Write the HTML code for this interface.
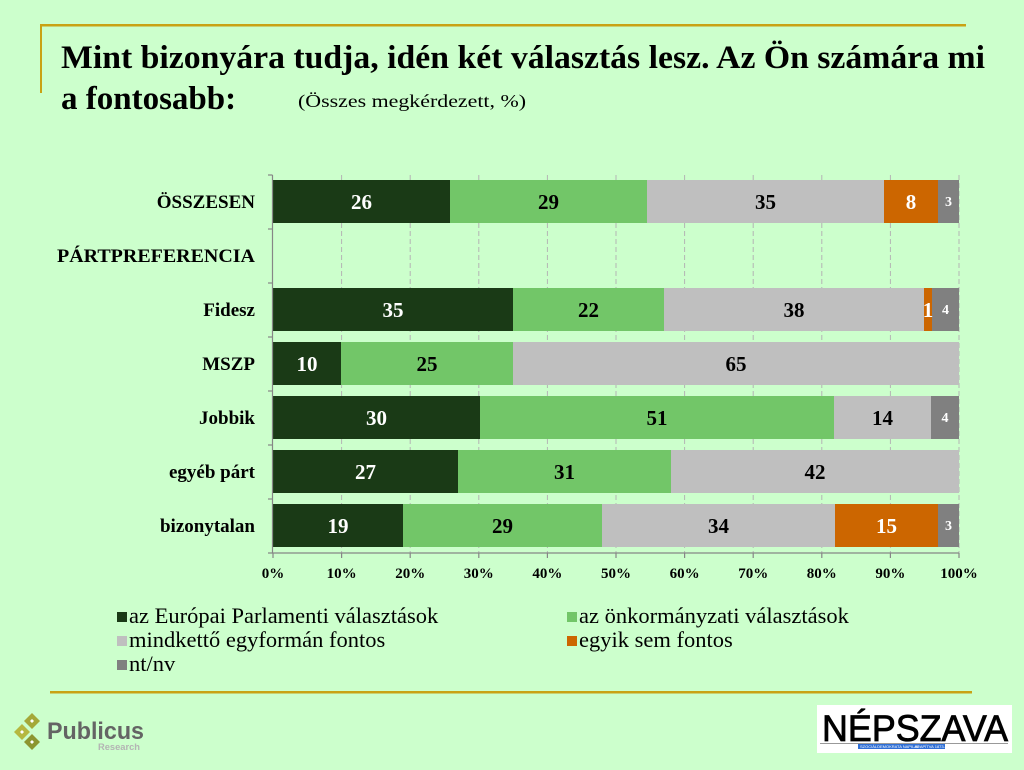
<!DOCTYPE html>
<html>
<head>
<meta charset="utf-8">
<style>
html,body{margin:0;padding:0;background:#ccffcc;}
svg{display:block;}
</style>
</head>
<body>
<svg width="1024" height="770" viewBox="0 0 1024 770" xmlns="http://www.w3.org/2000/svg">
<rect x="0" y="0" width="1024" height="770" fill="#ccffcc"/>

<!-- gold frame lines -->
<rect x="40" y="24" width="926" height="2.5" fill="#c9a214"/>
<rect x="40" y="24" width="2" height="69" fill="#c9a214"/>
<rect x="50" y="691" width="922" height="2.5" fill="#c9a214"/>

<!-- title -->
<text x="61" y="68" font-family="Liberation Serif, serif" font-weight="bold" font-size="33" fill="#000" textLength="924" lengthAdjust="spacingAndGlyphs">Mint bizonyára tudja, idén két választás lesz. Az Ön számára mi</text>
<text x="61" y="109" font-family="Liberation Serif, serif" font-weight="bold" font-size="33" fill="#000">a fontosabb:</text>
<text x="298" y="107" font-family="Liberation Serif, serif" font-size="18" fill="#000" textLength="228" lengthAdjust="spacingAndGlyphs">(Összes megkérdezett, %)</text>

<!-- gridlines -->
<g stroke="#b4b4b4" stroke-width="1" stroke-dasharray="5,3">
<line x1="341.6" y1="175" x2="341.6" y2="553"/>
<line x1="410.2" y1="175" x2="410.2" y2="553"/>
<line x1="478.8" y1="175" x2="478.8" y2="553"/>
<line x1="547.4" y1="175" x2="547.4" y2="553"/>
<line x1="616" y1="175" x2="616" y2="553"/>
<line x1="684.6" y1="175" x2="684.6" y2="553"/>
<line x1="753.2" y1="175" x2="753.2" y2="553"/>
<line x1="821.8" y1="175" x2="821.8" y2="553"/>
<line x1="890.4" y1="175" x2="890.4" y2="553"/>
<line x1="959" y1="175" x2="959" y2="553"/>
</g>

<!-- bars -->
<g>
<rect x="273" y="180" width="177" height="43" fill="#1a3a16"/>
<rect x="450" y="180" width="197" height="43" fill="#72c668"/>
<rect x="647" y="180" width="237" height="43" fill="#bfbfbf"/>
<rect x="884" y="180" width="54" height="43" fill="#cc6600"/>
<rect x="938" y="180" width="21" height="43" fill="#808080"/>
<rect x="273" y="288" width="240" height="43" fill="#1a3a16"/>
<rect x="513" y="288" width="151" height="43" fill="#72c668"/>
<rect x="664" y="288" width="260" height="43" fill="#bfbfbf"/>
<rect x="924" y="288" width="8" height="43" fill="#cc6600"/>
<rect x="932" y="288" width="27" height="43" fill="#808080"/>
<rect x="273" y="342" width="68" height="43" fill="#1a3a16"/>
<rect x="341" y="342" width="172" height="43" fill="#72c668"/>
<rect x="513" y="342" width="446" height="43" fill="#bfbfbf"/>
<rect x="273" y="396" width="207" height="43" fill="#1a3a16"/>
<rect x="480" y="396" width="354" height="43" fill="#72c668"/>
<rect x="834" y="396" width="97" height="43" fill="#bfbfbf"/>
<rect x="931" y="396" width="28" height="43" fill="#808080"/>
<rect x="273" y="450" width="185" height="43" fill="#1a3a16"/>
<rect x="458" y="450" width="213" height="43" fill="#72c668"/>
<rect x="671" y="450" width="288" height="43" fill="#bfbfbf"/>
<rect x="273" y="504" width="130" height="43" fill="#1a3a16"/>
<rect x="403" y="504" width="199" height="43" fill="#72c668"/>
<rect x="602" y="504" width="233" height="43" fill="#bfbfbf"/>
<rect x="835" y="504" width="103" height="43" fill="#cc6600"/>
<rect x="938" y="504" width="21" height="43" fill="#808080"/>
</g>

<!-- bar labels -->
<g font-family="Liberation Serif, serif" font-weight="bold" font-size="21" text-anchor="middle">
<text x="361.5" y="209" fill="#fff">26</text>
<text x="548.5" y="209" fill="#000">29</text>
<text x="765.5" y="209" fill="#000">35</text>
<text x="911" y="209" fill="#fff">8</text>
<text x="393" y="317" fill="#fff">35</text>
<text x="588.5" y="317" fill="#000">22</text>
<text x="794" y="317" fill="#000">38</text>
<text x="928" y="317" fill="#fff">1</text>
<text x="307" y="371" fill="#fff">10</text>
<text x="427" y="371" fill="#000">25</text>
<text x="736" y="371" fill="#000">65</text>
<text x="376.5" y="425" fill="#fff">30</text>
<text x="657" y="425" fill="#000">51</text>
<text x="882.5" y="425" fill="#000">14</text>
<text x="365.5" y="479" fill="#fff">27</text>
<text x="564.5" y="479" fill="#000">31</text>
<text x="815" y="479" fill="#000">42</text>
<text x="338" y="533" fill="#fff">19</text>
<text x="502.5" y="533" fill="#000">29</text>
<text x="718.5" y="533" fill="#000">34</text>
<text x="886.5" y="533" fill="#fff">15</text>
</g>
<g font-family="Liberation Serif, serif" font-weight="bold" font-size="14" text-anchor="middle" fill="#fff">
<text x="948.5" y="206">3</text>
<text x="945.5" y="314">4</text>
<text x="945" y="422">4</text>
<text x="948.5" y="530">3</text>
</g>

<!-- axes -->
<g stroke="#868686" stroke-width="1.2" fill="none">
<line x1="272.5" y1="175" x2="272.5" y2="553"/>
<line x1="268" y1="175" x2="272.5" y2="175"/>
<line x1="268" y1="229" x2="272.5" y2="229"/>
<line x1="268" y1="283" x2="272.5" y2="283"/>
<line x1="268" y1="337" x2="272.5" y2="337"/>
<line x1="268" y1="391" x2="272.5" y2="391"/>
<line x1="268" y1="445" x2="272.5" y2="445"/>
<line x1="268" y1="499" x2="272.5" y2="499"/>
<line x1="268" y1="553" x2="959" y2="553"/>
<line x1="273" y1="553" x2="273" y2="558"/>
<line x1="341.6" y1="553" x2="341.6" y2="558"/>
<line x1="410.2" y1="553" x2="410.2" y2="558"/>
<line x1="478.8" y1="553" x2="478.8" y2="558"/>
<line x1="547.4" y1="553" x2="547.4" y2="558"/>
<line x1="616" y1="553" x2="616" y2="558"/>
<line x1="684.6" y1="553" x2="684.6" y2="558"/>
<line x1="753.2" y1="553" x2="753.2" y2="558"/>
<line x1="821.8" y1="553" x2="821.8" y2="558"/>
<line x1="890.4" y1="553" x2="890.4" y2="558"/>
<line x1="959" y1="553" x2="959" y2="558"/>
</g>

<!-- x tick labels -->
<g font-family="Liberation Serif, serif" font-weight="bold" font-size="15" text-anchor="middle" fill="#000">
<text x="273" y="578">0%</text>
<text x="341.6" y="578">10%</text>
<text x="410.2" y="578">20%</text>
<text x="478.8" y="578">30%</text>
<text x="547.4" y="578">40%</text>
<text x="616" y="578">50%</text>
<text x="684.6" y="578">60%</text>
<text x="753.2" y="578">70%</text>
<text x="821.8" y="578">80%</text>
<text x="890.4" y="578">90%</text>
<text x="959" y="578">100%</text>
</g>

<!-- y category labels -->
<g font-family="Liberation Serif, serif" font-weight="bold" font-size="19" text-anchor="end" fill="#000">
<text x="255" y="208">ÖSSZESEN</text>
<text x="255" y="262" textLength="198" lengthAdjust="spacingAndGlyphs">PÁRTPREFERENCIA</text>
<text x="255" y="316">Fidesz</text>
<text x="255" y="370">MSZP</text>
<text x="255" y="424">Jobbik</text>
<text x="255" y="478">egyéb párt</text>
<text x="255" y="532">bizonytalan</text>
</g>

<!-- legend -->
<rect x="117" y="612" width="10" height="10" fill="#1a3a16"/>
<rect x="567" y="612" width="10" height="10" fill="#72c668"/>
<rect x="117" y="636" width="10" height="10" fill="#bfbfbf"/>
<rect x="567" y="636" width="10" height="10" fill="#cc6600"/>
<rect x="117" y="660" width="10" height="10" fill="#808080"/>
<g font-family="Liberation Serif, serif" font-size="22.5" fill="#000">
<text x="129" y="623">az Európai Parlamenti választások</text>
<text x="579" y="623">az önkormányzati választások</text>
<text x="129" y="647">mindkettő egyformán fontos</text>
<text x="579" y="647">egyik sem fontos</text>
<text x="129" y="671">nt/nv</text>
</g>

<!-- Publicus logo -->
<g>
<polygon points="32,713 40,721 32,729 24,721" fill="#a4a838"/>
<polygon points="22,724 30,732 22,740 14,732" fill="#b5b840"/>
<polygon points="32,734 40,742 32,750 24,742" fill="#8c9630"/>
<polygon points="32,719 34,721 32,723 30,721" fill="#fff"/>
<polygon points="22,730 24,732 22,734 20,732" fill="#fff"/>
<polygon points="32,740 34,742 32,744 30,742" fill="#fff"/>
<text x="47" y="739" font-family="Liberation Sans, sans-serif" font-weight="bold" font-size="24" fill="#646464" textLength="97" lengthAdjust="spacingAndGlyphs">Publicus</text>
<text x="98" y="750" font-family="Liberation Sans, sans-serif" font-weight="bold" font-size="9" fill="#b4b4b4" textLength="42" lengthAdjust="spacingAndGlyphs">Research</text>
</g>

<!-- Népszava logo -->
<g>
<rect x="817" y="705" width="195" height="48" fill="#ffffff"/>
<text x="822" y="741" font-family="Liberation Sans, sans-serif" font-size="37" fill="#000" stroke="#000" stroke-width="0.8" textLength="186" lengthAdjust="spacingAndGlyphs">NÉPSZAVA</text>
<rect x="820" y="743" width="188" height="1" fill="#999"/>
<rect x="858" y="744" width="87" height="5" fill="#2f6fd6"/>
<text x="860" y="748" font-family="Liberation Sans, sans-serif" font-size="4" fill="#fff">SZOCIÁLDEMOKRATA NAPILAP</text>
<text x="915" y="748" font-family="Liberation Sans, sans-serif" font-size="4" fill="#fff">ALAPÍTVA 1873-BAN</text>
</g>
</svg>
</body>
</html>
